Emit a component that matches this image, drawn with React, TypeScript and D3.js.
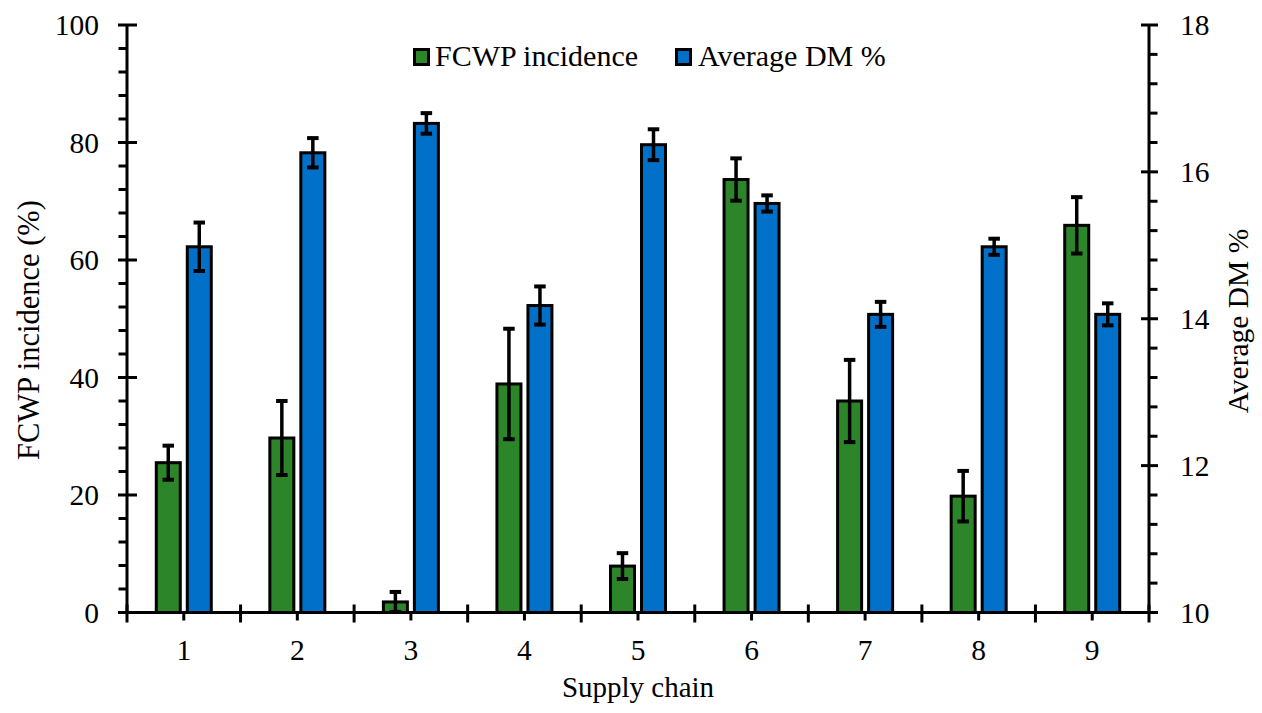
import React from "react";
import * as d3 from "d3";

const categories = ["1", "2", "3", "4", "5", "6", "7", "8", "9"];
const fcwpIncidence = [25.5, 29.7, 1.8, 38.9, 7.9, 73.7, 36.0, 19.8, 65.9];
const fcwpError = [2.9, 6.3, 1.7, 9.4, 2.2, 3.6, 7.0, 4.3, 4.8];
const avgDM = [14.98, 16.26, 16.66, 14.18, 16.37, 15.57, 14.06, 14.98, 14.06];
const avgDMError = [0.33, 0.2, 0.14, 0.26, 0.21, 0.11, 0.17, 0.11, 0.15];
const leftTicks = [0, 20, 40, 60, 80, 100];
const rightTicks = [10, 12, 14, 16, 18];
const seriesNames = ["FCWP incidence", "Average DM %"];

const W = 1262;
const H = 713;
const GREEN = "#2C8629";
const BLUE = "#0070C8";
const FONT = "'Liberation Serif', 'Times New Roman', serif";

export default function App() {
  const left = 127;
  const right = 1149;
  const bottom = 612.5;
  const top = 25;

  const x = d3.scaleBand<string>().domain(categories).range([left, right]).paddingInner(0).paddingOuter(0);
  const sub = d3.scaleBand<string>().domain(["g", "b"]).range([-27.5, 27.5]).paddingInner(0.2258).paddingOuter(0);
  const yL = d3.scaleLinear().domain([0, 100]).range([bottom, top]);
  const yR = d3.scaleLinear().domain([10, 18]).range([bottom, top]);

  const leftMinor = d3.range(0, 26).map((i) => i * 4).filter((v) => v % 20 !== 0);
  const rightMinor = d3.range(0, 21).map((i) => 10 + i * 0.4).filter((_, i) => i % 5 !== 0);
  const boundaries = d3.range(0, categories.length + 1).map((i) => left + i * x.step());

  const bw = sub.bandwidth();
  const capHalf = 5.75;

  return (
    <svg width={W} height={H} style={{ position: "absolute", left: 0, top: 0, background: "#fff" }} fontFamily={FONT}>
      <rect x={0} y={0} width={W} height={H} fill="#fff" />
      {categories.map((c, i) => {
        const cx = x(c)! + x.bandwidth() / 2;
        const gx = cx + sub("g")!;
        const bx = cx + sub("b")!;
        const gy = yL(fcwpIncidence[i]);
        const by = yR(avgDM[i]);
        const gxc = gx + bw / 2;
        const bxc = bx + bw / 2;
        return (
          <g key={c}>
            <rect x={gx} y={gy} width={bw} height={bottom - gy} fill={GREEN} stroke="#000" strokeWidth={3} />
            <rect x={bx} y={by} width={bw} height={bottom - by} fill={BLUE} stroke="#000" strokeWidth={3} />
            <line x1={gxc} x2={gxc} y1={yL(fcwpIncidence[i] + fcwpError[i])} y2={yL(Math.max(0, fcwpIncidence[i] - fcwpError[i]))} stroke="#000" strokeWidth={3.5} />
            <line x1={gxc - capHalf} x2={gxc + capHalf} y1={yL(fcwpIncidence[i] + fcwpError[i])} y2={yL(fcwpIncidence[i] + fcwpError[i])} stroke="#000" strokeWidth={4} />
            {fcwpIncidence[i] - fcwpError[i] > 0 && (
              <line x1={gxc - capHalf} x2={gxc + capHalf} y1={yL(fcwpIncidence[i] - fcwpError[i])} y2={yL(fcwpIncidence[i] - fcwpError[i])} stroke="#000" strokeWidth={4} />
            )}
            <line x1={bxc} x2={bxc} y1={yR(avgDM[i] + avgDMError[i])} y2={yR(avgDM[i] - avgDMError[i])} stroke="#000" strokeWidth={3.5} />
            <line x1={bxc - capHalf} x2={bxc + capHalf} y1={yR(avgDM[i] + avgDMError[i])} y2={yR(avgDM[i] + avgDMError[i])} stroke="#000" strokeWidth={4} />
            <line x1={bxc - capHalf} x2={bxc + capHalf} y1={yR(avgDM[i] - avgDMError[i])} y2={yR(avgDM[i] - avgDMError[i])} stroke="#000" strokeWidth={4} />
          </g>
        );
      })}

      <line x1={left} x2={left} y1={top} y2={bottom} stroke="#000" strokeWidth={3} />
      {leftTicks.map((t) => (
        <g key={"lt" + t}>
          <line x1={left - 9} x2={left + 10} y1={yL(t)} y2={yL(t)} stroke="#000" strokeWidth={3} />
          <text x={left - 28} y={yL(t)} dy="0.35em" textAnchor="end" fontSize={29.5}>{t}</text>
        </g>
      ))}
      {leftMinor.map((t) => (
        <line key={"lm" + t} x1={left - 8.5} x2={left} y1={yL(t)} y2={yL(t)} stroke="#000" strokeWidth={3} />
      ))}

      <line x1={right} x2={right} y1={top} y2={bottom} stroke="#000" strokeWidth={3} />
      {rightTicks.map((t) => (
        <g key={"rt" + t}>
          <line x1={right - 8} x2={right + 9} y1={yR(t)} y2={yR(t)} stroke="#000" strokeWidth={3} />
          <text x={right + 31} y={yR(t)} dy="0.35em" textAnchor="start" fontSize={29.5}>{t}</text>
        </g>
      ))}
      {rightMinor.map((t, i) => (
        <line key={"rm" + i} x1={right} x2={right + 8.5} y1={yR(t)} y2={yR(t)} stroke="#000" strokeWidth={3} />
      ))}

      <line x1={left} x2={right} y1={bottom} y2={bottom} stroke="#000" strokeWidth={3} />
      {boundaries.map((bx, i) => (
        <line key={"xb" + i} x1={bx} x2={bx} y1={bottom - 8} y2={bottom + 10} stroke="#000" strokeWidth={3} />
      ))}
      {categories.map((c) => {
        const cx = x(c)! + x.bandwidth() / 2;
        return (
          <g key={"xl" + c}>
            <line x1={cx} x2={cx} y1={bottom} y2={bottom + 8} stroke="#000" strokeWidth={3} />
            <text x={cx} y={660} textAnchor="middle" fontSize={29.5}>{c}</text>
          </g>
        );
      })}

      <text x={638} y={697} textAnchor="middle" fontSize={29}>Supply chain</text>
      <text transform={`translate(39,330) rotate(-90)`} textAnchor="middle" fontSize={30.5}>FCWP incidence (%)</text>
      <text transform={`translate(1248,321) rotate(-90)`} textAnchor="middle" fontSize={29.5}>Average DM %</text>

      <rect x={414.5} y={49.5} width={14} height={15} fill={GREEN} stroke="#000" strokeWidth={3} />
      <text x={435} y={66} fontSize={30}>{seriesNames[0]}</text>
      <rect x={676.5} y={49.5} width={14} height={15} fill={BLUE} stroke="#000" strokeWidth={3} />
      <text x={698} y={66} fontSize={30}>{seriesNames[1]}</text>
    </svg>
  );
}
